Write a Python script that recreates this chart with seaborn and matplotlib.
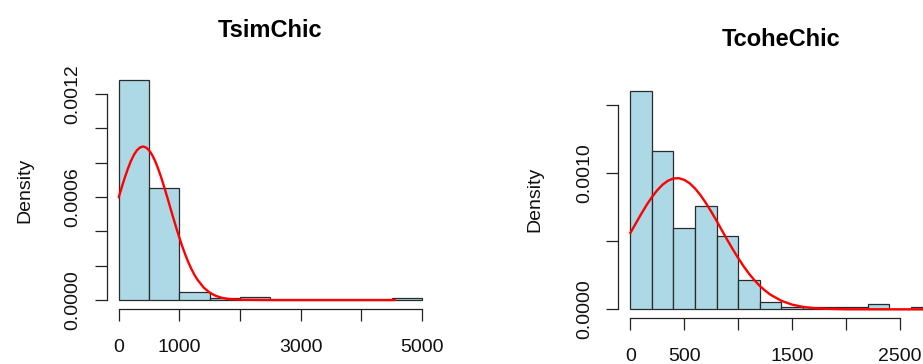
import numpy as np
import matplotlib
matplotlib.use("Agg")
import matplotlib.pyplot as plt
import seaborn as sns

# ---- datos ----
# TsimChic: bins de 500, densidades
sim_edges = [0, 500, 1000, 1500, 2000, 2500, 3000, 3500, 4000, 4500, 5000]
sim_density = [0.00128, 0.00065, 0.000047, 0.0000093, 0.0000186,
               0.0, 0.0, 0.0, 0.0, 0.0000093]
# curva normal ajustada (valores leidos)
sim_curve_x = [0, 50, 100, 150, 200, 250, 300, 350, 400, 450, 500, 550, 600,
               650, 700, 750, 800, 850, 900, 950, 1000, 1050, 1100, 1150,
               1200, 1250, 1300, 1400, 1500, 1600, 1700, 1800, 2000, 2500, 4550]
sim_curve_y = [0.000598, 0.000657, 0.000713, 0.000764, 0.000809, 0.000845,
               0.000872, 0.000888, 0.000894, 0.000888, 0.000872, 0.000845,
               0.000809, 0.000764, 0.000713, 0.000657, 0.000598, 0.000537,
               0.000477, 0.000418, 0.000362, 0.000309, 0.000261, 0.000217,
               0.000179, 0.000145, 0.000117, 0.0000724, 0.0000427, 0.000024,
               0.0000128, 0.0000065, 0.0000014, 0.0, 0.0]

# TcoheChic: bins de 200, densidades
cohe_edges = [0, 200, 400, 600, 800, 1000, 1200, 1400, 1600, 1800, 2000,
              2200, 2400, 2600, 2800]
cohe_density = [0.001605, 0.001159, 0.000600, 0.000759, 0.000537, 0.000212,
                0.000054, 0.000014, 0.000014, 0.000014, 0.000014, 0.000042,
                0.0, 0.000014]
cohe_curve_x = [0, 50, 100, 150, 200, 250, 300, 350, 400, 450, 500, 550, 600,
                650, 700, 750, 800, 850, 900, 950, 1000, 1050, 1100, 1150,
                1200, 1250, 1300, 1400, 1500, 1600, 1700, 1800, 2000, 2500, 3000]
cohe_curve_y = [0.000559, 0.000629, 0.000698, 0.000764, 0.000823, 0.000874,
                0.000915, 0.000944, 0.000960, 0.000962, 0.000950, 0.000925,
                0.000887, 0.000838, 0.000781, 0.000717, 0.000649, 0.000578,
                0.000508, 0.000440, 0.000376, 0.000316, 0.000262, 0.000214,
                0.000172, 0.000137, 0.000107, 0.0000626, 0.0000345, 0.000018,
                0.0000088, 0.0000041, 0.0000007, 0.0, 0.0]

# ---- estilo ----
sns.set_theme(style="ticks")
plt.rcParams['font.family'] = ['Liberation Sans', 'DejaVu Sans']

W, H = 923, 364
fig = plt.figure(figsize=(W / 100, H / 100), dpi=100)


def panel(box, edges, dens, cx, cy, title, xlim, ylim,
          xticks, xlabels, yticks, ylabels, label_x):
    l, t, r, b = box
    ax = fig.add_axes([l / W, 1 - b / H, (r - l) / W, (b - t) / H])
    mids = [(edges[i] + edges[i + 1]) / 2 for i in range(len(dens))]
    sns.histplot(x=mids, weights=dens, bins=edges, stat="count", ax=ax,
                 color="#ADD8E6", edgecolor="#2b2b2b", linewidth=0.9, alpha=1)
    sns.lineplot(x=cx, y=cy, ax=ax, color="red", linewidth=1.7,
                 estimator=None, sort=True)
    ax.set_xlim(*xlim)
    ax.set_ylim(*ylim)
    for s in ["top", "right"]:
        ax.spines[s].set_visible(False)
    ax.spines["left"].set_bounds(yticks[0], yticks[-1])
    ax.spines["bottom"].set_bounds(xticks[0], xticks[-1])
    for s in ["left", "bottom"]:
        ax.spines[s].set_color("#222222")
        ax.spines[s].set_linewidth(0.9)
    ax.set_xticks(xticks)
    ax.set_xticklabels(xlabels)
    ax.set_yticks(yticks)
    ax.set_yticklabels(ylabels, rotation=90, va="center")
    ax.tick_params(axis="both", direction="out", length=8.5, width=0.9,
                   color="#222222", labelsize=14, labelcolor="#111111",
                   bottom=True, left=True)
    ax.tick_params(axis="x", pad=13)
    ax.tick_params(axis="y", pad=9.5)
    ax.set_xlabel("")
    ax.set_ylabel("Density", fontsize=14, color="#111111")
    ax.yaxis.set_label_coords((label_x - l) / (r - l), 0.5)
    ax.set_title(title, fontsize=17, fontweight="bold", pad=25, color="black")
    return ax


panel((106.6, 71.4, 434.3, 308.8), sim_edges, sim_density,
      sim_curve_x, sim_curve_y, "TsimChic",
      (-200, 5200), (-0.0000512, 0.0013312),
      [0, 1000, 2000, 3000, 4000, 5000], ["0", "1000", "", "3000", "", "5000"],
      [0, 0.0002, 0.0004, 0.0006, 0.0008, 0.0010, 0.0012],
      ["0.0000", "", "", "0.0006", "", "", "0.0012"], 33)

panel((618.2, 81.1, 944.5, 318.1), cohe_edges, cohe_density,
      cohe_curve_x, cohe_curve_y, "TcoheChic",
      (-112, 2912), (-0.0000644, 0.0016744),
      [0, 500, 1000, 1500, 2000, 2500], ["0", "500", "", "1500", "", "2500"],
      [0, 0.0005, 0.0010, 0.0015], ["0.0000", "", "0.0010", ""], 543)

fig.savefig("out.png", dpi=100)
